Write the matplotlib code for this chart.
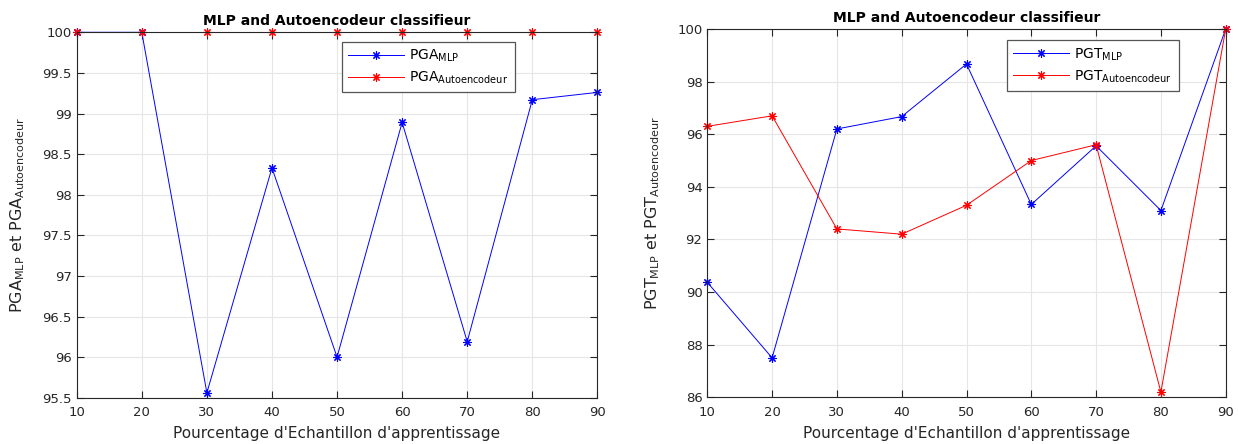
import matplotlib
matplotlib.use("Agg")
import matplotlib.pyplot as plt

plt.rcParams['font.family'] = ['DejaVu Sans']
plt.rcParams['mathtext.default'] = 'regular'

# Pourcentage d'echantillon d'apprentissage
pourcentage = [10, 20, 30, 40, 50, 60, 70, 80, 90]

# PGA (left)
pga_mlp = [100, 100, 95.56, 98.33, 96.0, 98.89, 96.19, 99.17, 99.26]
pga_auto = [100, 100, 100, 100, 100, 100, 100, 100, 100]

# PGT (right)
pgt_mlp = [90.37, 87.5, 96.2, 96.67, 98.67, 93.33, 95.56, 93.1, 100]
pgt_auto = [96.3, 96.7, 92.4, 92.2, 93.3, 95.0, 95.6, 86.2, 100]

ASTERISK = (8, 2, 0)   # matlab-like '*' marker
W, H = 1239, 444


def styleAxes(ax, ylim, yticks, yticklabels):
    ax.set_xlim(10, 90)
    ax.set_xticks(pourcentage)
    ax.set_ylim(*ylim)
    ax.set_yticks(yticks)
    ax.set_yticklabels(yticklabels)
    ax.tick_params(direction='in', labelsize=9.5, length=5, width=0.8, top=True, right=True,
                   labeltop=False, labelright=False, colors='#262626')
    ax.tick_params(axis='x', pad=6)
    ax.grid(True, color='#e6e6e6', linewidth=0.8)
    ax.set_axisbelow(True)
    for s in ax.spines.values():
        s.set_color('#262626')
        s.set_linewidth(0.8)
    ax.set_title('MLP and Autoencodeur classifieur', fontsize=10, fontweight='bold', pad=5)
    ax.set_xlabel("Pourcentage d'Echantillon d'apprentissage", fontsize=11, color='#262626', labelpad=5)


def addLegend(ax, box):
    # box = (left, top) in pixels of the figure
    leg = ax.legend(loc='upper left', bbox_to_anchor=(box[0]/W, 1-box[1]/H),
                    bbox_transform=ax.figure.transFigure, borderaxespad=0,
                    fontsize=10, fancybox=False, edgecolor='#555555', framealpha=1,
                    handlelength=4.0, handletextpad=0.4, borderpad=0.45, labelspacing=0.4)
    leg.get_frame().set_linewidth(0.9)


def drawLines(ax, y1, y2, name):
    ax.plot(pourcentage, y1, color='blue', marker=ASTERISK, markersize=6, markeredgewidth=0.8,
            linewidth=0.7, clip_on=False, label=name + r'$_{MLP}$')
    ax.plot(pourcentage, y2, color='red', marker=ASTERISK, markersize=6, markeredgewidth=0.8,
            linewidth=0.7, clip_on=False, label=name + r'$_{Autoencodeur}$')


fig = plt.figure(figsize=(W/100, H/100), dpi=100)
ax1 = fig.add_axes([76.7/W, 1-397.7/H, (597.4-76.7)/W, (397.7-32.3)/H])
ax2 = fig.add_axes([707.3/W, 1-397.3/H, (1225.7-707.3)/W, (397.3-29)/H])

# left plot
drawLines(ax1, pga_mlp, pga_auto, 'PGA')
yt1 = [95.5, 96, 96.5, 97, 97.5, 98, 98.5, 99, 99.5, 100]
styleAxes(ax1, (95.5, 100), yt1, ['95.5', '96', '96.5', '97', '97.5', '98', '98.5', '99', '99.5', '100'])
ax1.set_ylabel(r'PGA$_{MLP}$ et PGA$_{Autoencodeur}$', fontsize=11.5, color='#262626', labelpad=11)
addLegend(ax1, (342, 41.6))

# right plot
drawLines(ax2, pgt_mlp, pgt_auto, 'PGT')
yt2 = [86, 88, 90, 92, 94, 96, 98, 100]
styleAxes(ax2, (86, 100), yt2, [str(v) for v in yt2])
ax2.set_ylabel(r'PGT$_{MLP}$ et PGT$_{Autoencodeur}$', fontsize=11.5, color='#262626', labelpad=11)
addLegend(ax2, (1007, 40))

fig.savefig('out.png', dpi=100)
